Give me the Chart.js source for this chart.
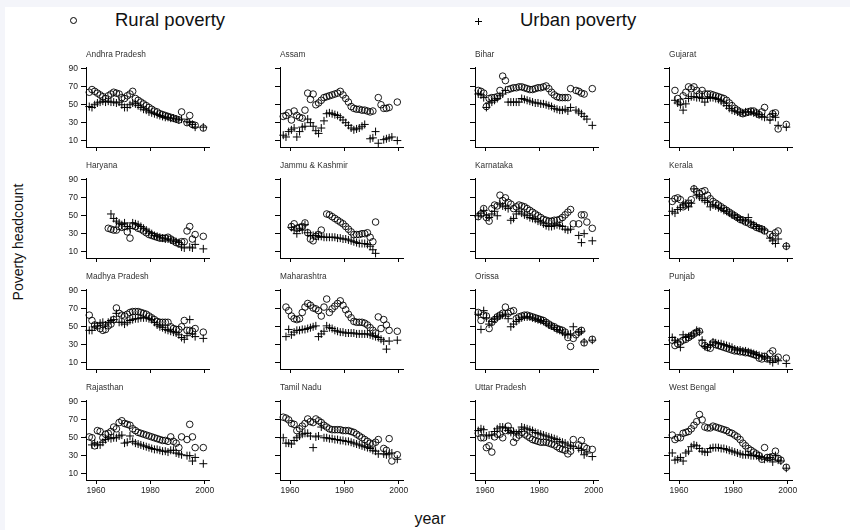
<!DOCTYPE html>
<html>
<head>
<meta charset="utf-8">
<script src="https://cdn.jsdelivr.net/npm/chart.js@4.4.1/dist/chart.umd.min.js"></script>
<style>
  body { margin: 0; width: 850px; height: 530px; background: #f4f5fa; overflow: hidden;
         font-family: "Liberation Sans", Arial, Helvetica, sans-serif; color: #111; }
  #sheet { position: absolute; left: 5px; top: 7px; width: 845px; height: 523px; background: #fff; }
  .panel { position: absolute; }
  .lbl { position: absolute; white-space: nowrap; }
  .ring { position: absolute; width: 5px; height: 5px; border: 1px solid #000; border-radius: 50%; }
  .bar { position: absolute; background: #000; }
</style>
</head>
<body>
<div id="sheet"></div>

<!-- legend -->
<div class="ring" style="left:70px; top:17px;"></div>
<div class="lbl" style="left:115px; top:9px; font-size:18.5px;">Rural poverty</div>
<div class="bar" style="left:475px; top:21px; width:7px; height:1px;"></div>
<div class="bar" style="left:478px; top:18px; width:1px; height:7px;"></div>
<div class="lbl" style="left:520px; top:9px; font-size:18.5px;">Urban poverty</div>

<!-- axis titles -->
<div class="lbl" style="left:18px; top:242px; font-size:14px; transform:translate(-50%,-50%) rotate(-90deg);">Poverty headcount</div>
<div class="lbl" style="left:430px; top:519px; font-size:16px; transform:translate(-50%,-50%);">year</div>

<script>
// survey years (mid-points of NSS rounds, interpolated years in between)
const years = [1957.5, 1958.5, 1959.5, 1960.5, 1961.5, 1962.5, 1963.5, 1964.5, 1965.5, 1966.5,
               1967.5, 1968.5, 1969.5, 1970.5, 1971.5, 1972.5, 1973.5, 1974.5, 1975.5, 1976.5,
               1977.5, 1978.5, 1979.5, 1980.5, 1981.5, 1982.5, 1983.5, 1984.5, 1985.5, 1986.5,
               1987.5, 1988.5, 1989.5, 1990.5, 1991.5, 1992.5, 1993.5, 1994.5, 1995.5, 1996.5,
               1997.5, 1999.5];

const states = ['Andhra Pradesh', 'Assam', 'Bihar', 'Gujarat',
                'Haryana', 'Jammu & Kashmir', 'Karnataka', 'Kerala',
                'Madhya Pradesh', 'Maharashtra', 'Orissa', 'Punjab',
                'Rajasthan', 'Tamil Nadu', 'Uttar Pradesh', 'West Bengal'];

const xTicks = [1960, 1980, 2000];
const yTicks = [10, 30, 50, 70, 90];

// headcount index (%), one value per survey year, null = no survey
const apRural  = [64,67,65,63,61,59,57,60,62,64, 63,62,58,57,60,62,65,57,55,53, 51,49,47,45,43,42,40,39,38,37, 36,35,34,33,42,null,30,38,28,27, null,24];
const apUrban  = [48,47,50,52,53,54,53,54,53,53, 52,53,50,47,47,50,52,51,49,47, 45,44,42,41,40,39,38,37,36,36, 35,35,34,33,34,null,31,30,28,25, null,25];
const asRural  = [37,38,41,33,43,38,36,35,44,63, 56,62,50,52,55,58,59,60,61,62, 63,65,61,57,53,48,46,45,45,44, 44,43,42,43,null,58,50,46,46,47, null,53];
const asUrban  = [16,14,20,22,24,14,20,25,26,34, 30,26,21,18,24,32,40,41,40,39, 38,36,33,30,27,24,22,23,24,26, 28,null,12,13,20,7,null,11,12,13, 14,10];
const biRural  = [66,65,63,48,57,58,58,59,66,82, 77,67,68,69,69,70,70,69,68,67, 67,68,69,69,70,71,68,64,61,59, 58,58,58,58,68,null,66,65,63,62, null,68];
const biUrban  = [62,61,58,47,52,53,55,57,60,62, 66,53,53,53,53,53,57,56,55,54, 53,52,52,51,51,50,49,48,46,45, 44,44,45,43,47,null,44,42,40,37, 34,27];
const guRural  = [null,66,57,53,60,64,70,68,70,66, 62,66,62,62,62,61,60,59,58,57, 55,52,49,46,44,42,40,41,42,43, 43,41,39,42,47,null,36,40,41,23, null,28];
const guUrban  = [null,55,52,50,44,51,57,59,59,58, 58,57,53,57,58,58,57,56,54,52, 49,46,44,43,42,41,41,42,42,42, 41,40,39,37,36,null,33,40,36,27, null,25];
const haRural  = [null,null,null,null,null,null,null,36,35,34, 34,38,37,38,32,25,39,38,36,35, 33,31,29,28,27,26,25,25,25,26, 24,22,20,19,21,21,33,38,24,29, null,27];
const haUrban  = [null,null,null,null,null,null,null,null,52,47, 44,42,40,42,38,36,42,41,40,38, 36,34,32,30,28,27,26,25,24,24, 23,22,21,20,15,14,null,15,14,18, null,13];
const jkRural  = [null,null,null,38,41,36,37,38,42,31, 24,22,27,29,34,null,52,51,49,47, 45,43,41,38,35,32,29,29,29,30, 30,31,26,21,43,null,null,null,null,null, null,null];
const jkUrban  = [null,null,null,37,34,30,36,34,40,31, 28,28,28,27,27,26,26,26,26,26, 25,25,24,24,23,22,21,20,19,19, 19,18,16,12,8,null,null,null,null,null, null,null];
const kaRural  = [49,52,58,48,44,58,62,61,73,67, 70,65,63,58,60,62,61,60,58,56, 54,52,50,48,46,45,44,44,45,45, 46,48,51,54,57,41,null,41,51,51, 43,36];
const kaUrban  = [50,53,56,50,48,52,55,50,63,61, 60,58,45,47,52,55,53,51,50,48, 47,46,44,43,41,39,38,38,39,40, 39,38,35,34,35,null,null,28,20,30, null,22];
const keRural  = [66,69,70,68,60,62,64,68,80,77, 75,77,78,73,69,66,64,62,60,58, 56,54,52,50,48,46,45,43,42,40, 39,37,36,35,33,null,29,27,31,33, null,16];
const keUrban  = [55,53,57,59,62,64,60,64,80,73, 71,69,67,65,60,62,61,59,58,56, 55,53,51,50,48,46,45,44,48,42, 40,38,36,35,34,null,25,22,19,24, null,16];
const mpRural  = [63,57,52,51,48,46,47,51,53,58, 71,65,63,62,64,66,67,67,67,66, 65,64,62,60,58,56,55,55,55,55, 50,48,47,47,50,57,46,46,45,48, null,44];
const mpUrban  = [46,46,50,51,54,55,52,55,57,58, 65,55,55,53,55,57,58,59,59,60, 60,60,59,58,55,52,50,49,47,46, 45,44,43,41,38,36,40,58,42,39, null,37];
const mhRural  = [null,72,68,62,59,58,59,66,72,76, 74,71,70,68,62,72,81,66,70,73, 76,79,74,69,64,60,56,55,55,55, 54,52,49,46,43,61,48,58,52,46, null,45];
const mhUrban  = [null,39,47,41,44,46,46,47,47,48, 49,50,51,39,42,45,51,49,48,46, 45,44,44,43,43,43,43,42,42,42, 42,42,41,40,39,38,36,34,25,34, null,35];
const orRural  = [66,57,63,62,48,55,58,61,63,65, 72,65,67,68,59,61,62,63,63,62, 61,60,59,58,57,55,53,51,50,48, 47,46,44,38,28,37,41,44,46,32, null,36];
const orUrban  = [64,47,68,60,53,56,59,61,62,63, 64,59,50,53,56,58,60,61,61,61, 60,59,58,57,56,54,52,51,49,47, 46,44,42,41,42,50,null,44,45,33, null,35];
const puRural  = [35,29,31,33,35,36,38,40,42,44, 45,32,29,27,26,32,30,29,28,27, 26,25,24,23,23,22,22,21,21,20, 19,18,15,14,17,14,20,23,14,16, null,15];
const puUrban  = [38,35,33,27,41,38,39,40,42,46, 44,35,28,27,30,33,32,31,31,30, 29,28,27,25,24,24,23,23,22,21, 20,19,18,17,16,15,12,10,14,12, null,9];
const raRural  = [51,50,41,58,57,50,54,55,57,62, 60,67,69,66,65,64,60,58,56,55, 54,53,52,51,50,49,48,47,47,46, 51,46,44,39,51,null,48,65,51,39, null,39];
const raUrban  = [null,42,44,42,42,45,48,50,49,50, 50,52,53,44,45,52,46,44,43,42, 41,40,39,38,37,37,36,35,35,34, 36,36,33,32,31,null,30,30,24,28, null,21];
const tnRural  = [73,72,70,66,65,58,60,63,66,71, 68,67,71,69,67,64,62,60,59,59, 59,59,58,58,58,57,56,54,52,50, 48,46,44,43,45,48,null,38,36,49, 24,31];
const tnUrban  = [50,44,44,43,47,50,52,54,55,55, 52,39,51,52,62,50,50,49,49,48, 48,47,47,46,46,45,44,43,42,41, 40,39,38,36,35,32,null,32,31,32, 33,26];
const upRural  = [55,50,50,39,41,34,51,54,54,50, 58,63,58,45,50,53,56,54,52,50, 48,47,46,45,45,45,44,43,42,40, 38,37,36,32,35,48,null,42,47,40, 38,37];
const upUrban  = [58,60,59,52,53,53,57,60,62,62, 61,58,56,57,55,57,62,61,60,59, 58,56,55,54,53,52,51,50,49,48, 46,45,44,42,41,40,null,38,36,31, 33,29];
const wbRural  = [53,48,50,50,55,56,57,60,64,68, 76,70,62,61,61,63,62,61,60,59, 58,56,55,53,51,48,44,41,38,36, 34,32,30,26,39,28,28,29,35,27, 25,17];
const wbUrban  = [33,25,26,28,24,33,35,40,42,41, 38,35,34,34,38,39,39,39,38,38, 37,36,35,34,33,32,31,31,31,30, 30,30,29,28,26,27,28,23,30,25, 24,16];

const ruralSeries = [apRural, asRural, biRural, guRural, haRural, jkRural, kaRural, keRural,
                     mpRural, mhRural, orRural, puRural, raRural, tnRural, upRural, wbRural];
const urbanSeries = [apUrban, asUrban, biUrban, guUrban, haUrban, jkUrban, kaUrban, keUrban,
                     mpUrban, mhUrban, orUrban, puUrban, raUrban, tnUrban, upUrban, wbUrban];

// panel grid: left edge of each plot area and top of each row
const colX = [86, 280, 475, 669];
const rowY = [67, 178, 289, 400];
const YAXIS_W = 30, TITLE_H = 17, XAXIS_H = 22, PAD_R = 8;
const PLOT_W = 123, PLOT_H = 80;

Chart.defaults.font.family = '"Liberation Sans", Arial, Helvetica, sans-serif';
Chart.defaults.color = '#111';

function toPoints(values) {
  const pts = [];
  values.forEach((v, i) => { if (v !== null) pts.push({ x: years[i], y: v }); });
  return pts;
}

function makePanel(idx) {
  const r = Math.floor(idx / 4), c = idx % 4;
  const w = YAXIS_W + PLOT_W + PAD_R;
  const h = TITLE_H + PLOT_H + XAXIS_H;

  const wrap = document.createElement('div');
  wrap.className = 'panel';
  wrap.style.left = (colX[c] - YAXIS_W) + 'px';
  wrap.style.top = (rowY[r] - TITLE_H) + 'px';
  const canvas = document.createElement('canvas');
  canvas.width = w; canvas.height = h;
  canvas.style.width = w + 'px'; canvas.style.height = h + 'px';
  wrap.appendChild(canvas);
  document.body.appendChild(wrap);

  new Chart(canvas, {
    type: 'scatter',
    data: {
      datasets: [
        {
          label: 'Rural poverty',
          data: toPoints(ruralSeries[idx]),
          pointStyle: 'circle',
          pointRadius: 3.3,
          borderColor: '#000',
          backgroundColor: 'rgba(0,0,0,0)',
          borderWidth: 0.9,
          clip: false
        },
        {
          label: 'Urban poverty',
          data: toPoints(urbanSeries[idx]),
          pointStyle: 'cross',
          pointRadius: 4,
          borderColor: '#000',
          borderWidth: 1,
          clip: false
        }
      ]
    },
    options: {
      responsive: false,
      animation: false,
      events: [],
      layout: { padding: { left: 0, right: PAD_R, top: 0, bottom: 0 } },
      plugins: {
        legend: { display: false },
        tooltip: { enabled: false },
        title: {
          display: true,
          text: states[idx],
          align: 'start',
          fullSize: false,
          color: '#333',
          font: { size: 8.3, weight: 'normal', lineHeight: '10px' },
          padding: { top: 0, bottom: 7 }
        }
      },
      scales: {
        x: {
          type: 'linear',
          min: 1956.3,
          max: 2001.6,
          afterBuildTicks: (s) => { s.ticks = xTicks.map(v => ({ value: v })); },
          afterFit: (s) => { s.height = XAXIS_H; },
          grid: { drawOnChartArea: false, drawTicks: true, tickLength: 4, color: '#000', lineWidth: 1 },
          border: { display: true, color: '#000', width: 1 },
          ticks: {
            autoSkip: false, maxRotation: 0, padding: 2,
            color: '#222', font: { size: 8.5 },
            callback: (v) => (r === 3 ? String(v) : '')
          }
        },
        y: {
          type: 'linear',
          min: 2.8,
          max: 92.2,
          afterBuildTicks: (s) => { s.ticks = yTicks.map(v => ({ value: v })); },
          afterFit: (s) => { s.width = YAXIS_W; },
          grid: { drawOnChartArea: false, drawTicks: true, tickLength: 5, color: '#000', lineWidth: 1 },
          border: { display: true, color: '#000', width: 1 },
          ticks: {
            padding: 3,
            color: '#222', font: { size: 8.5 },
            callback: (v) => (c === 0 ? String(v) : '')
          }
        }
      }
    }
  });
}

states.forEach((s, i) => makePanel(i));
</script>
</body>
</html>
